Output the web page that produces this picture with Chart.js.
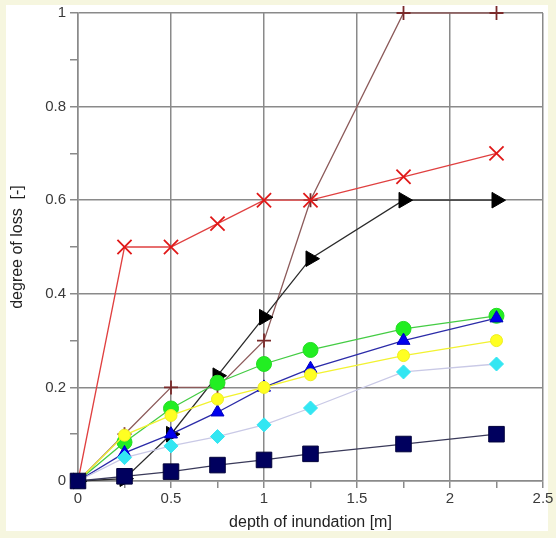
<!DOCTYPE html>
<html>
<head>
<meta charset="utf-8">
<script src="https://cdn.jsdelivr.net/npm/chart.js@4/dist/chart.umd.min.js"></script>
<style>
  html, body { margin: 0; padding: 0; background: #f6f6df; }
  #wrap { position: absolute; left: 0; top: 0; width: 556px; height: 538px; }
</style>
</head>
<body>
<div id="wrap"><canvas id="c" width="556" height="538"></canvas></div>
<script>
// Data
const depth = [0, 0.25, 0.5, 0.75, 1.0, 1.25, 1.75, 2.25];
const lossBrown  = [0, 0.1, 0.2, 0.2, 0.3, 0.6, 1.0, 1.0];
const lossRed    = [0, 0.5, 0.5, 0.55, 0.6, 0.6, 0.65, 0.7];
const lossBlack  = [0, 0.005, 0.1, 0.225, 0.35, 0.475, 0.6, 0.6];
const lossGreen  = [0, 0.083, 0.155, 0.21, 0.25, 0.28, 0.325, 0.353];
const lossBlue   = [0, 0.06, 0.1, 0.147, 0.2, 0.24, 0.3, 0.348];
const lossYellow = [0, 0.098, 0.14, 0.175, 0.2, 0.227, 0.268, 0.3];
const lossCyan   = [0, 0.05, 0.075, 0.095, 0.12, 0.156, 0.233, 0.25];
const lossNavy   = [0, 0.01, 0.02, 0.034, 0.045, 0.058, 0.079, 0.1];

const xTickLabels = ['0', '0.5', '1', '1.5', '2', '2.5'];
const yTickLabels = ['0', '0.2', '0.4', '0.6', '0.8', '1'];
const xTitle = 'depth of inundation [m]';
const yTitle = 'degree of loss  [-]';

function pts(ys) { return depth.map((x, i) => ({ x: x, y: ys[i] })); }

function ds(ys, line, fill, edge, style, radius, rot) {
  return {
    data: pts(ys),
    borderColor: line,
    borderWidth: 1.3,
    pointStyle: style,
    pointRadius: radius,
    pointHoverRadius: radius,
    pointBackgroundColor: fill,
    pointBorderColor: edge,
    pointBorderWidth: (style === 'cross' || style === 'crossRot') ? 1.8 : 1,
    pointRotation: rot || 0,
    tension: 0,
    fill: false,
    clip: false
  };
}

const panel = {
  id: 'panel',
  beforeDraw(chart) {
    const ctx = chart.ctx;
    ctx.save();
    ctx.fillStyle = '#f6f6df';
    ctx.fillRect(0, 0, chart.width, chart.height);
    ctx.fillStyle = '#ffffff';
    ctx.fillRect(6, 5, 542, 526);
    ctx.restore();
  }
};

const gridCol = '#8a8a8a';

new Chart(document.getElementById('c'), {
  type: 'line',
  data: {
    datasets: [
      ds(lossNavy,   '#3a3a5a', '#00005e', '#00003a', 'rect', 11),
      ds(lossCyan,   '#c9c9e6', '#33e6f2', '#33e6f2', 'rectRot', 7),
      ds(lossYellow, '#f2f230', '#ffff22', '#eeee22', 'circle', 6),
      ds(lossBlue,   '#2b2ba8', '#0000ee', '#0000c0', 'triangle', 7.5),
      ds(lossGreen,  '#44cc44', '#22ee22', '#22dd22', 'circle', 7.5),
      ds(lossBlack,  '#2a2a2a', '#000000', '#000000', 'triangle', 9, 90),
      ds(lossRed,    '#e04040', '#e01818', '#e01818', 'crossRot', 10),
      ds(lossBrown,  '#8c5a5a', '#7a2a2a', '#7a2a2a', 'cross', 7)
    ]
  },
  options: {
    responsive: false,
    animation: false,
    events: [],
    layout: { padding: { left: 0, right: 13, top: 13, bottom: 0 } },
    plugins: { legend: { display: false }, tooltip: { enabled: false } },
    scales: {
      x: {
        type: 'linear',
        min: 0, max: 2.5,
        afterFit(s) { s.height = 57; },
        ticks: {
          stepSize: 0.25,
          autoSkip: false,
          maxRotation: 0,
          padding: 2,
          color: '#3a3a3a',
          font: { family: 'Liberation Sans', size: 15 },
          callback(v) {
            const k = Math.round(v * 4);
            return k % 2 === 0 ? xTickLabels[k / 2] : '';
          }
        },
        grid: {
          color(c) { return Math.round(c.tick.value * 4) % 2 === 0 ? gridCol : 'rgba(0,0,0,0)'; },
          tickColor: gridCol,
          lineWidth: 1.5,
          tickLength: 7
        },
        border: { display: true, color: gridCol, width: 1.5 },
        title: {
          display: true,
          text: xTitle,
          color: '#222222',
          font: { family: 'Liberation Sans', size: 16 },
          padding: { top: 0, bottom: 6 }
        }
      },
      y: {
        type: 'linear',
        min: 0, max: 1,
        afterFit(s) { s.width = 78; },
        ticks: {
          stepSize: 0.1,
          autoSkip: false,
          padding: 4,
          color: '#3a3a3a',
          font: { family: 'Liberation Sans', size: 15 },
          callback(v) {
            const k = Math.round(v * 10);
            return k % 2 === 0 ? yTickLabels[k / 2] : '';
          }
        },
        grid: {
          color(c) { return Math.round(c.tick.value * 10) % 2 === 0 ? gridCol : 'rgba(0,0,0,0)'; },
          tickColor: gridCol,
          lineWidth: 1.5,
          tickLength: 8
        },
        border: { display: true, color: gridCol, width: 1.5 },
        title: {
          display: true,
          text: yTitle,
          color: '#222222',
          font: { family: 'Liberation Sans', size: 16 },
          padding: { top: 8, bottom: 0 }
        }
      }
    }
  },
  plugins: [panel]
});
</script>
</body>
</html>
